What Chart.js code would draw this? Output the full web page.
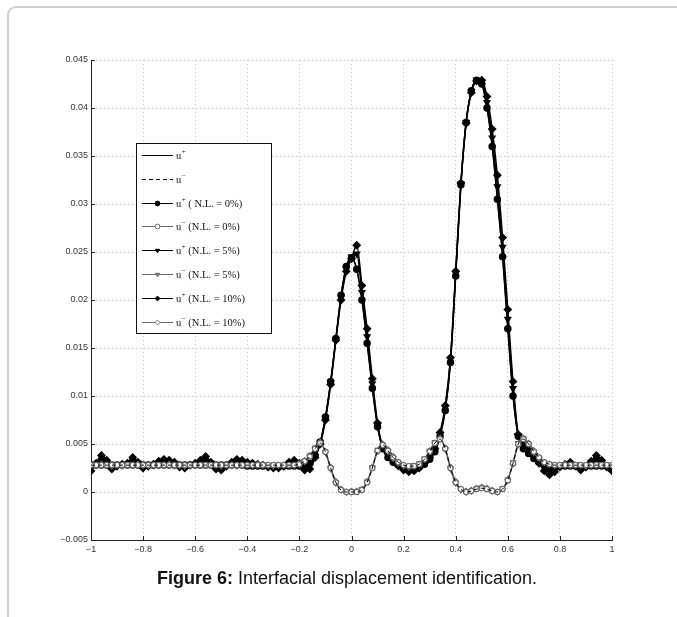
<!DOCTYPE html>
<html>
<head>
<meta charset="utf-8">
<script src="https://cdn.jsdelivr.net/npm/chart.js@4.4.0/dist/chart.umd.min.js"></script>
<style>
  body { margin: 0; background: #fff; }
  #wrap { position: relative; width: 677px; height: 617px; overflow: hidden; }
  #frame { position: absolute; left: 7px; top: 6px; width: 720px; height: 700px;
    border: 2px solid #cfcfcf; border-radius: 9px; box-sizing: border-box; }
  #myChart { position: absolute; left: 0; top: 0; }
  #caption { position: absolute; left: 0; top: 569px; width: 694px; text-align: center;
    font-family: "Liberation Sans", Arial, sans-serif; font-size: 18px; line-height: 18px; color: #111; }
</style>
</head>
<body>
<div id="wrap">
  <div id="frame"></div>
  <canvas id="myChart" width="677" height="617"></canvas>
  <div id="caption"><b>Figure 6:</b> Interfacial displacement identification.</div>
</div>
<script>
// x positions along the interface
const xValues = [
  -1, -0.98, -0.96, -0.94, -0.92, -0.9, -0.88, -0.86, -0.84, -0.82,
  -0.8, -0.78, -0.76, -0.74, -0.72, -0.7, -0.68, -0.66, -0.64, -0.62,
  -0.6, -0.58, -0.56, -0.54, -0.52, -0.5, -0.48, -0.46, -0.44, -0.42,
  -0.4, -0.38, -0.36, -0.34, -0.32, -0.3, -0.28, -0.26, -0.24, -0.22,
  -0.2, -0.18, -0.16, -0.14, -0.12, -0.1, -0.08, -0.06, -0.04, -0.02,
  0, 0.02, 0.04, 0.06, 0.08, 0.1, 0.12, 0.14, 0.16, 0.18,
  0.2, 0.22, 0.24, 0.26, 0.28, 0.3, 0.32, 0.34, 0.36, 0.38,
  0.4, 0.42, 0.44, 0.46, 0.48, 0.5, 0.52, 0.54, 0.56, 0.58,
  0.6, 0.62, 0.64, 0.66, 0.68, 0.7, 0.72, 0.74, 0.76, 0.78,
  0.8, 0.82, 0.84, 0.86, 0.88, 0.9, 0.92, 0.94, 0.96, 0.98,
  1
];

// u+ exact (same as N.L. = 0%)
const uPlus = [
  0.0028, 0.0028, 0.0028, 0.0028, 0.0028, 0.0028, 0.0028, 0.0028, 0.0028, 0.0028,
  0.0028, 0.0028, 0.0028, 0.0028, 0.0028, 0.0028, 0.0028, 0.0028, 0.0028, 0.0028,
  0.0028, 0.0028, 0.0028, 0.0028, 0.0028, 0.0028, 0.0028, 0.0028, 0.0028, 0.0028,
  0.0027, 0.0027, 0.0027, 0.0027, 0.0027, 0.0027, 0.0027, 0.0027, 0.0027, 0.0027,
  0.0027, 0.0027, 0.0030, 0.0038, 0.0052, 0.0078, 0.0115, 0.0160, 0.0205, 0.0235,
  0.0244, 0.0232, 0.0200, 0.0155, 0.0108, 0.0068, 0.0045, 0.0036, 0.0031, 0.0028,
  0.0026, 0.0025, 0.0025, 0.0026, 0.0029, 0.0034, 0.0042, 0.0058, 0.0085, 0.0135,
  0.0225, 0.0320, 0.0385, 0.0418, 0.0429, 0.0425, 0.0400, 0.0360, 0.0305, 0.0245,
  0.0170, 0.0100, 0.0058, 0.0045, 0.0040, 0.0035, 0.0031, 0.0028, 0.0027, 0.0027,
  0.0027, 0.0027, 0.0027, 0.0027, 0.0027, 0.0027, 0.0027, 0.0027, 0.0027, 0.0027,
  0.0027
];

const uPlus5 = [
  0.0025, 0.0029, 0.0033, 0.0031, 0.0026, 0.0027, 0.0028, 0.0029, 0.0032, 0.0030,
  0.0026, 0.0027, 0.0028, 0.0030, 0.0031, 0.0031, 0.0030, 0.0027, 0.0026, 0.0028,
  0.0029, 0.0031, 0.0032, 0.0030, 0.0026, 0.0025, 0.0027, 0.0029, 0.0031, 0.0031,
  0.0030, 0.0029, 0.0028, 0.0028, 0.0027, 0.0026, 0.0026, 0.0027, 0.0029, 0.0030,
  0.0028, 0.0025, 0.0027, 0.0037, 0.0051, 0.0077, 0.0114, 0.0159, 0.0203, 0.0233,
  0.0245, 0.0248, 0.0208, 0.0162, 0.0113, 0.0070, 0.0046, 0.0038, 0.0032, 0.0028,
  0.0025, 0.0023, 0.0024, 0.0026, 0.0030, 0.0035, 0.0044, 0.0060, 0.0088, 0.0138,
  0.0228, 0.0321, 0.0385, 0.0417, 0.0429, 0.0427, 0.0406, 0.0369, 0.0318, 0.0255,
  0.0180, 0.0108, 0.0059, 0.0048, 0.0043, 0.0037, 0.0031, 0.0025, 0.0023, 0.0024,
  0.0027, 0.0028, 0.0029, 0.0028, 0.0025, 0.0027, 0.0030, 0.0033, 0.0030, 0.0027,
  0.0025
];

const uPlus10 = [
  0.0022, 0.0030, 0.0038, 0.0033, 0.0024, 0.0027, 0.0029, 0.0030, 0.0036, 0.0031,
  0.0025, 0.0027, 0.0029, 0.0032, 0.0034, 0.0033, 0.0031, 0.0026, 0.0025, 0.0028,
  0.0030, 0.0033, 0.0037, 0.0031, 0.0024, 0.0023, 0.0027, 0.0031, 0.0034, 0.0033,
  0.0031, 0.0030, 0.0029, 0.0028, 0.0026, 0.0025, 0.0025, 0.0027, 0.0031, 0.0033,
  0.0030, 0.0023, 0.0024, 0.0036, 0.0050, 0.0075, 0.0112, 0.0158, 0.0200, 0.0230,
  0.0243, 0.0257, 0.0215, 0.0170, 0.0118, 0.0072, 0.0047, 0.0040, 0.0033, 0.0027,
  0.0023, 0.0021, 0.0022, 0.0025, 0.0030, 0.0036, 0.0045, 0.0062, 0.0090, 0.0140,
  0.0230, 0.0322, 0.0384, 0.0416, 0.0428, 0.0429, 0.0412, 0.0378, 0.0330, 0.0265,
  0.0190, 0.0115, 0.0060, 0.0050, 0.0046, 0.0040, 0.0030, 0.0022, 0.0018, 0.0021,
  0.0026, 0.0029, 0.0031, 0.0027, 0.0023, 0.0026, 0.0032, 0.0038, 0.0033, 0.0026,
  0.0022
];

// u- exact (same as N.L. = 0%)
const uMinus = [
  0.0028, 0.0028, 0.0028, 0.0028, 0.0028, 0.0028, 0.0028, 0.0028, 0.0028, 0.0028,
  0.0028, 0.0028, 0.0028, 0.0028, 0.0028, 0.0028, 0.0028, 0.0028, 0.0028, 0.0028,
  0.0028, 0.0028, 0.0028, 0.0028, 0.0028, 0.0028, 0.0028, 0.0028, 0.0028, 0.0028,
  0.0028, 0.0028, 0.0028, 0.0028, 0.0028, 0.0028, 0.0028, 0.0028, 0.0028, 0.0028,
  0.0029, 0.0032, 0.0037, 0.0045, 0.0051, 0.0042, 0.0025, 0.0010, 0.0002, 0.0000,
  0.0000, 0.0000, 0.0002, 0.0010, 0.0025, 0.0043, 0.0049, 0.0043, 0.0036, 0.0031,
  0.0028, 0.0027, 0.0027, 0.0029, 0.0034, 0.0042, 0.0051, 0.0055, 0.0045, 0.0025,
  0.0010, 0.0003, 0.0000, 0.0001, 0.0003, 0.0004, 0.0003, 0.0001, 0.0000, 0.0003,
  0.0012, 0.0030, 0.0050, 0.0055, 0.0050, 0.0042, 0.0036, 0.0031, 0.0029, 0.0028,
  0.0028, 0.0028, 0.0028, 0.0028, 0.0028, 0.0028, 0.0028, 0.0028, 0.0028, 0.0028,
  0.0028
];

const uMinus5 = [
  0.0028, 0.0029, 0.0028, 0.0028, 0.0027, 0.0028, 0.0028, 0.0029, 0.0028, 0.0028,
  0.0028, 0.0028, 0.0028, 0.0029, 0.0028, 0.0028, 0.0027, 0.0028, 0.0028, 0.0028,
  0.0028, 0.0028, 0.0029, 0.0028, 0.0028, 0.0027, 0.0028, 0.0028, 0.0028, 0.0028,
  0.0028, 0.0028, 0.0028, 0.0028, 0.0028, 0.0027, 0.0028, 0.0028, 0.0028, 0.0028,
  0.0029, 0.0032, 0.0038, 0.0046, 0.0051, 0.0041, 0.0024, 0.0009, 0.0002, 0.0000,
  0.0000, 0.0001, 0.0003, 0.0011, 0.0026, 0.0044, 0.0049, 0.0042, 0.0035, 0.0030,
  0.0027, 0.0027, 0.0028, 0.0030, 0.0035, 0.0043, 0.0052, 0.0055, 0.0044, 0.0024,
  0.0009, 0.0002, 0.0000, 0.0001, 0.0004, 0.0005, 0.0003, 0.0001, 0.0000, 0.0004,
  0.0013, 0.0031, 0.0051, 0.0056, 0.0050, 0.0041, 0.0035, 0.0031, 0.0029, 0.0028,
  0.0028, 0.0028, 0.0028, 0.0029, 0.0028, 0.0028, 0.0028, 0.0028, 0.0029, 0.0028,
  0.0028
];

const uMinus10 = [
  0.0028, 0.0028, 0.0029, 0.0028, 0.0028, 0.0028, 0.0027, 0.0028, 0.0028, 0.0029,
  0.0028, 0.0028, 0.0028, 0.0028, 0.0028, 0.0029, 0.0028, 0.0028, 0.0027, 0.0028,
  0.0028, 0.0028, 0.0028, 0.0028, 0.0029, 0.0028, 0.0028, 0.0028, 0.0027, 0.0028,
  0.0028, 0.0028, 0.0029, 0.0028, 0.0028, 0.0028, 0.0028, 0.0028, 0.0028, 0.0028,
  0.0030, 0.0033, 0.0038, 0.0046, 0.0052, 0.0042, 0.0026, 0.0011, 0.0003, 0.0000,
  0.0001, 0.0001, 0.0003, 0.0011, 0.0026, 0.0042, 0.0050, 0.0044, 0.0037, 0.0031,
  0.0028, 0.0026, 0.0027, 0.0029, 0.0034, 0.0043, 0.0051, 0.0056, 0.0046, 0.0026,
  0.0011, 0.0003, 0.0001, 0.0002, 0.0004, 0.0005, 0.0004, 0.0002, 0.0000, 0.0003,
  0.0013, 0.0029, 0.0049, 0.0056, 0.0051, 0.0043, 0.0036, 0.0031, 0.0029, 0.0028,
  0.0028, 0.0029, 0.0028, 0.0028, 0.0028, 0.0027, 0.0028, 0.0028, 0.0028, 0.0028,
  0.0028
];

const legendLabels = [
  ['+', ''], ['\u2212', ''],
  ['+', ' ( N.L. = 0%)'], ['\u2212', ' (N.L. = 0%)'],
  ['+', ' (N.L. = 5%)'], ['\u2212', ' (N.L. = 5%)'],
  ['+', ' (N.L. = 10%)'], ['\u2212', ' (N.L. = 10%)']
];

function pts(arr) {
  return xValues.map((x, i) => ({ x: x, y: arr[i] }));
}

function fmt(v, d) {
  let s = String(Number(v.toFixed(d)));
  return s.replace('-', '\u2212');
}

const dark = '#000';
const grey = '#6a6a6a';

// inward tick marks and the boxed legend, drawn on top of the data
const decor = {
  id: 'decor',
  afterDatasetsDraw(chart) {
    const { ctx, chartArea, scales } = chart;
    ctx.save();
    ctx.strokeStyle = '#222';
    ctx.lineWidth = 1;
    scales.y.ticks.forEach(t => {
      const py = Math.round(scales.y.getPixelForValue(t.value)) + 0.5;
      ctx.beginPath(); ctx.moveTo(chartArea.left, py); ctx.lineTo(chartArea.left + 4, py); ctx.stroke();
    });
    scales.x.ticks.forEach(t => {
      const px = Math.round(scales.x.getPixelForValue(t.value)) + 0.5;
      ctx.beginPath(); ctx.moveTo(px, chartArea.bottom); ctx.lineTo(px, chartArea.bottom - 4); ctx.stroke();
    });

    // legend box
    const bx = 136, by = 143, bw = 135, bh = 190;
    ctx.fillStyle = '#fff';
    ctx.fillRect(bx, by, bw, bh);
    ctx.strokeStyle = '#111';
    ctx.strokeRect(bx + 0.5, by + 0.5, bw, bh);

    chart.data.datasets.forEach((ds, i) => {
      const y = Math.round(155 + i * 23.8) + 0.5;
      ctx.save();
      ctx.strokeStyle = ds.borderColor;
      ctx.lineWidth = 1;
      ctx.setLineDash(ds.borderDash || []);
      ctx.beginPath(); ctx.moveTo(142, y); ctx.lineTo(173, y); ctx.stroke();
      ctx.restore();
      if (ds.pointRadius > 0) {
        ctx.save();
        ctx.fillStyle = ds.pointBackgroundColor;
        ctx.strokeStyle = ds.pointBorderColor;
        ctx.lineWidth = 1;
        Chart.helpers.drawPoint(ctx, {
          pointStyle: ds.pointStyle, rotation: ds.pointRotation || 0,
          radius: 2.4, borderWidth: 1
        }, 157.5, y);
        ctx.restore();
      }
      const lab = legendLabels[i];
      ctx.fillStyle = '#111';
      ctx.textBaseline = 'alphabetic';
      ctx.font = '10.5px "Liberation Serif", "Times New Roman", serif';
      ctx.fillText('u', 176, y + 3.5);
      const uw = ctx.measureText('u').width;
      ctx.font = '7px "Liberation Serif", serif';
      ctx.fillText(lab[0], 176 + uw + 0.5, y - 1.5);
      const sw = ctx.measureText(lab[0]).width;
      ctx.font = '10.5px "Liberation Serif", "Times New Roman", serif';
      ctx.fillText(lab[1], 176 + uw + sw + 0.5, y + 3.5);
    });
    ctx.restore();
  }
};

const ctx = document.getElementById('myChart');
let myChart = new Chart(ctx, {
  type: 'line',
  data: {
    datasets: [
      { label: 'u+', data: pts(uPlus), borderColor: dark, borderWidth: 1, pointRadius: 0, order: 2 },
      { label: 'u-', data: pts(uMinus), borderColor: dark, borderWidth: 1, borderDash: [4, 3], pointRadius: 0, order: 0 },
      { label: 'u+ 0%', data: pts(uPlus), borderColor: dark, borderWidth: 1.5, pointStyle: 'circle', pointRadius: 3,
        pointBackgroundColor: dark, pointBorderColor: dark, order: 1 },
      { label: 'u- 0%', data: pts(uMinus), borderColor: grey, borderWidth: 1.2, pointStyle: 'circle', pointRadius: 2.6,
        pointBackgroundColor: '#fff', pointBorderColor: grey, order: 0 },
      { label: 'u+ 5%', data: pts(uPlus5), borderColor: dark, borderWidth: 1.5, pointStyle: 'triangle', pointRotation: 180,
        pointRadius: 3.2, pointBackgroundColor: dark, pointBorderColor: dark, order: 1 },
      { label: 'u- 5%', data: pts(uMinus5), borderColor: grey, borderWidth: 1.2, pointStyle: 'triangle', pointRotation: 180,
        pointRadius: 2.8, pointBackgroundColor: '#8a8a8a', pointBorderColor: grey, order: 0 },
      { label: 'u+ 10%', data: pts(uPlus10), borderColor: dark, borderWidth: 1.5, pointStyle: 'rectRot',
        pointRadius: 3.4, pointBackgroundColor: dark, pointBorderColor: dark, order: 1 },
      { label: 'u- 10%', data: pts(uMinus10), borderColor: grey, borderWidth: 1.2, pointStyle: 'rectRot',
        pointRadius: 2.8, pointBackgroundColor: '#fff', pointBorderColor: grey, order: 0 }
    ]
  },
  options: {
    responsive: false,
    animation: false,
    devicePixelRatio: 1,
    cubicInterpolationMode: 'monotone',
    layout: { padding: { left: 41, top: 60, right: 65, bottom: 57 } },
    plugins: { legend: { display: false }, tooltip: { enabled: false } },
    scales: {
      x: {
        type: 'linear', min: -1, max: 1,
        afterFit: (s) => { s.height = 20; },
        ticks: { stepSize: 0.2, padding: 4, color: '#333', font: { family: 'Liberation Sans', size: 9 },
          callback: (v) => fmt(v, 1), maxRotation: 0 },
        grid: { color: '#c4c4c4', drawTicks: false },
        border: { color: '#222', width: 1, dash: [1, 3] }
      },
      y: {
        min: -0.005, max: 0.045,
        afterFit: (s) => { s.width = 50; },
        ticks: { stepSize: 0.005, padding: 3, color: '#333', font: { family: 'Liberation Sans', size: 9 },
          callback: (v) => fmt(v, 3) },
        grid: { color: '#c4c4c4', drawTicks: false },
        border: { color: '#222', width: 1, dash: [1, 3] }
      }
    }
  },
  plugins: [decor]
});
</script>
</body>
</html>
